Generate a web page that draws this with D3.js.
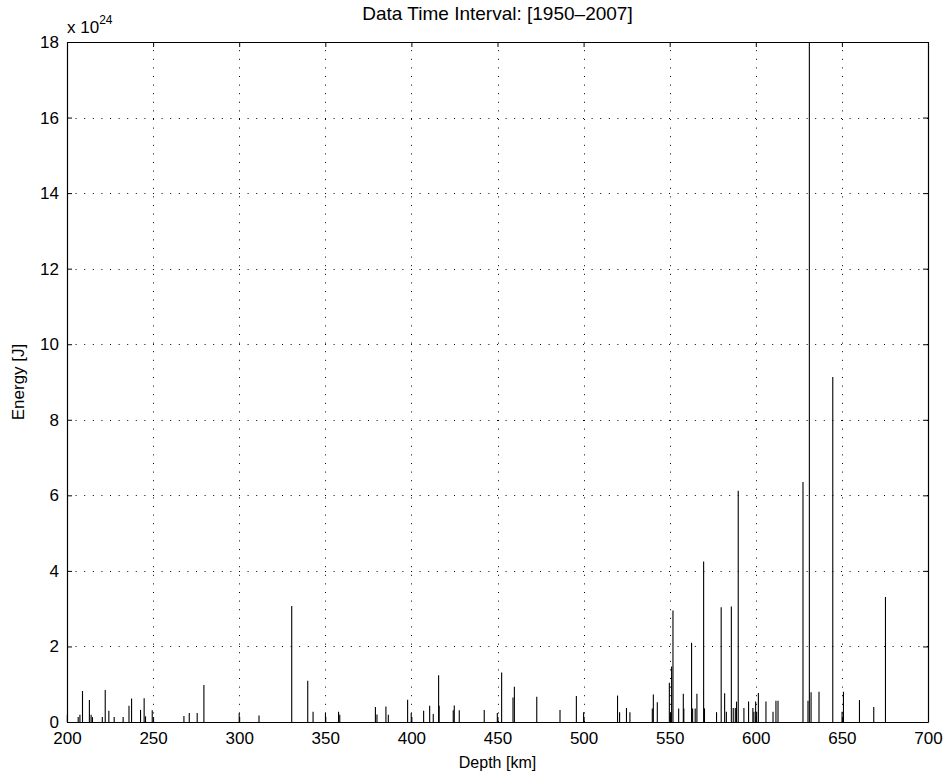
<!DOCTYPE html>
<html><head><meta charset="utf-8">
<script src="https://cdn.jsdelivr.net/npm/d3@7"></script>
<style>body{margin:0;background:#fff}svg{display:block}text{font-family:"Liberation Sans",Arial,sans-serif}</style>
</head><body>
<script>
const title = "Data Time Interval: [1950\u20132007]";
const xLabel = "Depth [km]";
const yLabel = "Energy [J]";
const xTicks = [200,250,300,350,400,450,500,550,600,650,700];
const yTicks = [0,2,4,6,8,10,12,14,16,18];
// depth [km]
const depths = [200.2,206.5,207.5,209,213,214,214.8,220.5,222.2,224.3,227.4,232.6,236,237.5,242.7,244.8,245.6,249.5,267.9,271,275.6,279.5,
 300,311.5,330.5,339.8,342.9,350.1,357.7,358.4,379.1,380,385.2,386.6,397.8,399.9,407.1,410.6,412.7,415.8,416.1,424.3,424.9,427.8,442.3,449.9,452.4,459,459.8,472.8,486.3,495.8,
 500,519.7,520.9,524.9,526.9,539.9,540.5,542.8,549.8,550.5,551.1,551.9,555.2,557.9,558.2,562.7,563.3,564.8,565.8,569.7,570.2,577.2,579.9,581.9,582.9,585.8,586.9,588.1,588.8,589.8,
 593.1,595.8,598.3,598.9,599.9,600.5,601.5,605.9,610,611.7,612.9,627.4,630.3,631.1,632.1,636.7,644.7,650.1,650.9,660.2,668.5,675.3];
// energy [x 10^24 J]
const energies = [0.19,0.13,0.19,0.82,0.58,0.19,0.13,0.13,0.85,0.3,0.13,0.13,0.43,0.62,0.32,0.63,0.15,0.31,0.16,0.24,0.24,0.98,
 0.24,0.17,3.07,1.09,0.27,0.24,0.27,0.19,0.4,0.2,0.41,0.19,0.59,0.24,0.3,0.43,0.21,1.24,0.43,0.31,0.44,0.31,0.32,0.24,1.31,0.65,0.93,0.67,0.32,0.69,
 0.26,0.7,0.26,0.37,0.26,0.36,0.73,0.52,1.04,0.25,1.47,2.95,0.36,0.75,0.36,2.1,0.36,0.36,0.75,4.25,0.36,0.26,3.04,0.76,0.27,3.06,0.37,0.37,0.54,6.12,
 0.37,0.54,0.37,0.27,0.54,0.27,0.77,0.54,0.27,0.56,0.56,6.35,0.56,18,0.79,0.8,9.13,0.27,0.8,0.58,0.4,3.31];

const W = 946, H = 774;
const m = {left:67, right:18, top:42, bottom:52};
const svg = d3.select("body").append("svg").attr("width",W).attr("height",H);
const x = d3.scaleLinear().domain([200,700]).range([m.left, W-m.right]);
const y = d3.scaleLinear().domain([0,18]).range([H-m.bottom, m.top]);

const g = svg.append("g");
// grid
g.selectAll(".vg").data(xTicks.slice(1,-1)).join("line")
 .attr("x1",d=>Math.round(x(d))+0.5).attr("x2",d=>Math.round(x(d))+0.5)
 .attr("y1",y(0)).attr("y2",y(18))
 .attr("stroke","#000").attr("stroke-width",1).attr("stroke-dasharray","1,7.6");
g.selectAll(".hg").data(yTicks.slice(1,-1)).join("line")
 .attr("y1",d=>Math.round(y(d))+0.5).attr("y2",d=>Math.round(y(d))+0.5)
 .attr("x1",x(200)).attr("x2",x(700))
 .attr("stroke","#000").attr("stroke-width",1).attr("stroke-dasharray","1,7.6");

// bars
g.selectAll(".bar").data(depths.map((d,i)=>({d,e:energies[i]}))).join("line")
 .attr("x1",d=>x(d.d)).attr("x2",d=>x(d.d))
 .attr("y1",y(0)).attr("y2",d=>y(Math.min(d.e,18)))
 .attr("stroke","#000").attr("stroke-width",1.1);

// axes
svg.append("g").attr("transform",`translate(0,${y(0)})`)
 .call(d3.axisBottom(x).tickValues(xTicks).tickSizeInner(-5).tickSizeOuter(0).tickPadding(10));
svg.append("g").attr("transform",`translate(0,${y(18)})`)
 .call(d3.axisTop(x).tickValues(xTicks).tickSizeInner(-5).tickSizeOuter(0).tickFormat(""));
svg.append("g").attr("transform",`translate(${x(200)},0)`)
 .call(d3.axisLeft(y).tickValues(yTicks).tickSizeInner(-5).tickSizeOuter(0).tickPadding(8));
svg.append("g").attr("transform",`translate(${x(700)},0)`)
 .call(d3.axisRight(y).tickValues(yTicks).tickSizeInner(-5).tickSizeOuter(0).tickFormat(""));
svg.selectAll(".domain").attr("stroke","#000").attr("stroke-width",1.2);
svg.selectAll(".tick line").attr("stroke","#000");
svg.selectAll(".tick text").attr("font-size",17).attr("fill","#000")
 .attr("font-family","'Liberation Sans',Arial,sans-serif");

// labels
svg.append("text").attr("x",x(450)).attr("y",20).attr("text-anchor","middle").attr("font-size",19).text(title);
svg.append("text").attr("x",x(450)).attr("y",768).attr("text-anchor","middle").attr("font-size",16).text(xLabel);
svg.append("text").attr("transform",`translate(24,${y(9)}) rotate(-90)`).attr("text-anchor","middle").attr("font-size",17).text(yLabel);
const ex = svg.append("text").attr("x",67).attr("y",33).attr("font-size",17);
ex.append("tspan").text("x 10");
ex.append("tspan").attr("dy",-9).attr("font-size",12).text("24");
</script>
</body></html>
